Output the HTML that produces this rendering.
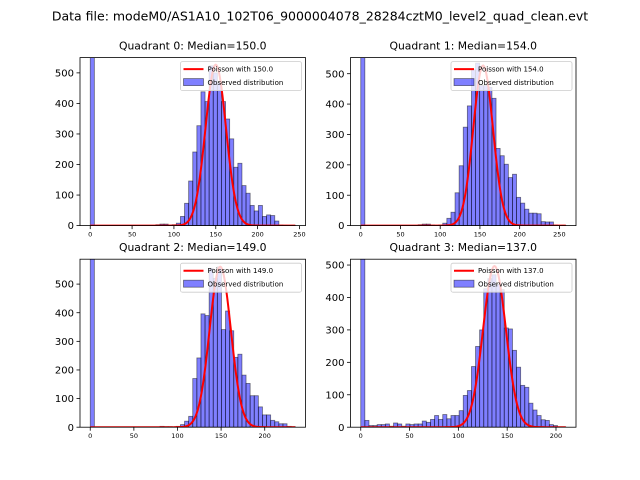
<!DOCTYPE html>
<html><head><meta charset="utf-8"><style>
body{margin:0;background:#fff}
svg{display:block;font-family:"DejaVu Sans","Liberation Sans",sans-serif}
</style></head><body>
<svg id="c" width="640" height="480" viewBox="0 0 640 480">
<rect width="640" height="480" fill="#fff"/>
<text x="320" y="20.5" font-size="12.5" text-anchor="middle">Data file: modeM0/AS1A10_102T06_9000004078_28284cztM0_level2_quad_clean.evt</text>
</svg>
<script>
const quadNames = ["Quadrant 0","Quadrant 1","Quadrant 2","Quadrant 3"];
const medians = [150.0, 154.0, 149.0, 137.0];
const binMax = [245, 258, 235, 210];
const poissonPeak = [527, 527, 561, 497];
const yMax = [550, 553, 587, 518];
const xTicks = [[0,50,100,150,200,250],[0,50,100,150,200,250],[0,50,100,150,200],[0,50,100,150,200]];
const yTicks = [[0,100,200,300,400,500],[0,100,200,300,400,500],[0,100,200,300,400,500],[0,100,200,300,400,500]];
const counts0 = [600,0,0,0,0,0,0,0,0,0,0,0,0,0,0,0,3,5,5,2,3,8,30,73,146,241,327,438,406,523,500,467,406,349,284,191,204,131,106,66,48,66,30,35,33,15,2,1,0,1];
const counts1 = [600,0,0,0,0,0,0,0,0,0,0,0,0,0,3,5,5,2,0,2,8,24,44,108,197,324,394,513,535,461,461,455,419,254,230,202,158,169,93,74,54,41,41,39,13,12,12,2,0,1];
const counts2 = [620,0,0,0,0,0,0,0,0,0,0,0,0,0,0,0,0,3,2,2,1,3,9,21,38,170,242,396,390,555,520,560,341,406,337,244,255,182,153,110,110,71,43,43,24,19,12,12,3,2];
const counts3 = [600,21,5,5,8,8,10,3,13,10,3,10,8,10,10,19,15,24,36,24,39,26,36,36,51,98,113,187,249,300,427,458,470,440,424,306,303,237,185,129,123,74,53,36,23,21,8,5,1,1];
const allCounts = [counts0, counts1, counts2, counts3];

const NS="http://www.w3.org/2000/svg";
const svg=document.getElementById('c');
function mk(tag, attrs, parent){const e=document.createElementNS(NS,tag);for(const k in attrs)e.setAttribute(k,attrs[k]);(parent||svg).appendChild(e);return e;}
const boxes=[[80,57.6,225.5,168],[350.5,57.6,225.5,168],[80,259.2,225.5,168],[350.5,259.2,225.5,168]];

for(let q=0;q<4;q++){
  const [L,T,W,H]=boxes[q];
  const cnt=allCounts[q], b=binMax[q], n=cnt.length, bw=b/n;
  const xmin=-0.05*b, xmax=1.05*b;
  const sx=v=>L+(v-xmin)/(xmax-xmin)*W;
  const sy=v=>T+H-v/yMax[q]*H;
  const g=mk('g',{});
  
  
  const clipId='clip'+q;
  const cp=mk('clipPath',{id:clipId},g); mk('rect',{x:L,y:T,width:W,height:H},cp);
  const plot=mk('g',{'clip-path':'url(#'+clipId+')'},g);
  // bars
  for(let i=0;i<n;i++){
    if(cnt[i]<=0)continue;
    const x0=sx(i*bw), x1=sx((i+1)*bw), y0=sy(cnt[i]);
    const r=mk('rect',{x:x0,y:y0,width:x1-x0,height:sy(0)-y0,fill:'rgba(0,0,255,0.5)',stroke:'rgba(0,0,0,0.5)','stroke-width':0.8},plot);
    
    
  }
  // poisson line (on top)
  const lam=medians[q], pk=poissonPeak[q];
  let d='';
  for(let x=0;x<=b;x+=1){const y=pk*Math.exp(-(x-lam)*(x-lam)/(2*lam));d+=(x?'L':'M')+sx(x).toFixed(2)+','+sy(y).toFixed(2);}
  const line=mk('path',{d:d,fill:'none',stroke:'#ff0000','stroke-width':2},plot);
  
  
  // axes frame
  const fr=mk('rect',{x:L,y:T,width:W,height:H,fill:'none',stroke:'#000','stroke-width':0.8},g);
  
  
  // ticks
  xTicks[q].forEach(v=>{
    const x=sx(v);
    mk('line',{x1:x,y1:T+H,x2:x,y2:T+H+3.5,stroke:'#000','stroke-width':0.8},g);
    const t=mk('text',{x:x,y:T+H+11,'font-size':6.5,'text-anchor':'middle'},g);t.textContent=v;
    
    
  });
  yTicks[q].forEach(v=>{
    const y=sy(v);
    mk('line',{x1:L,y1:y,x2:L-3.5,y2:y,stroke:'#000','stroke-width':0.8},g);
    const t=mk('text',{x:L-6,y:y+3.6,'font-size':10,'text-anchor':'end'},g);t.textContent=v;
    
    
  });
  const tt=mk('text',{x:L+W/2,y:T-8.3,'font-size':10.8,'text-anchor':'middle'},g);
  tt.textContent=quadNames[q]+': Median='+medians[q].toFixed(1);
  
  
  // legend
  const lg=mk('g',{},g);
  
  
  const lx=L+W-125, ly=T+4;
  mk('rect',{x:lx,y:ly,width:121,height:29,fill:'rgba(255,255,255,0.8)',stroke:'#ccc','stroke-width':0.8,rx:2},lg);
  mk('line',{x1:lx+3,y1:ly+7.5,x2:lx+23,y2:ly+7.5,stroke:'#ff0000','stroke-width':2},lg);
  const t1=mk('text',{x:lx+27,y:ly+10,'font-size':7},lg);t1.textContent='Poisson with '+medians[q].toFixed(1);
  
  
  mk('rect',{x:lx+3,y:ly+17,width:20,height:7,fill:'rgba(0,0,255,0.5)',stroke:'rgba(0,0,0,0.5)','stroke-width':0.8},lg);
  const t2=mk('text',{x:lx+27,y:ly+23.5,'font-size':7},lg);t2.textContent='Observed distribution';
  
  
}
</script>
</body></html>
